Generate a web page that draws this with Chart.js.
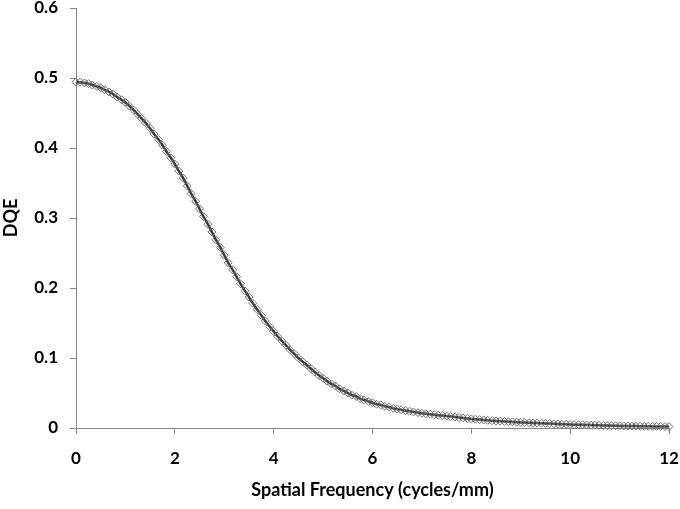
<!DOCTYPE html>
<html>
<head>
<meta charset="utf-8">
<script src="https://cdn.jsdelivr.net/npm/chart.js@4/dist/chart.umd.min.js"></script>
<style>
  body { margin: 0; background: #fff; }
  #wrap { width: 680px; height: 509px; }
</style>
</head>
<body>
<div id="wrap"><canvas id="myChart" width="680" height="509"></canvas></div>
<script>
// spatial frequency (cycles/mm)
var freq = [
  0, 0.08, 0.17, 0.25, 0.33, 0.42, 0.5, 0.58, 0.67, 0.75, 0.83, 0.92,
  1, 1.08, 1.17, 1.25, 1.33, 1.42, 1.5, 1.58, 1.67, 1.75, 1.83, 1.92,
  2, 2.08, 2.17, 2.25, 2.33, 2.42, 2.5, 2.58, 2.67, 2.75, 2.83, 2.92,
  3, 3.08, 3.17, 3.25, 3.33, 3.42, 3.5, 3.58, 3.67, 3.75, 3.83, 3.92,
  4, 4.08, 4.17, 4.25, 4.33, 4.42, 4.5, 4.58, 4.67, 4.75, 4.83, 4.92,
  5, 5.08, 5.17, 5.25, 5.33, 5.42, 5.5, 5.58, 5.67, 5.75, 5.83, 5.92,
  6, 6.08, 6.17, 6.25, 6.33, 6.42, 6.5, 6.58, 6.67, 6.75, 6.83, 6.92,
  7, 7.08, 7.17, 7.25, 7.33, 7.42, 7.5, 7.58, 7.67, 7.75, 7.83, 7.92,
  8, 8.08, 8.17, 8.25, 8.33, 8.42, 8.5, 8.58, 8.67, 8.75, 8.83, 8.92,
  9, 9.08, 9.17, 9.25, 9.33, 9.42, 9.5, 9.58, 9.67, 9.75, 9.83, 9.92,
  10, 10.08, 10.17, 10.25, 10.33, 10.42, 10.5, 10.58, 10.67, 10.75, 10.83, 10.92,
  11, 11.08, 11.17, 11.25, 11.33, 11.42, 11.5, 11.58, 11.67, 11.75, 11.83, 11.92,
  12
];

// DQE
var dqe = [
  0.494, 0.494, 0.493, 0.492, 0.490, 0.488, 0.486, 0.483, 0.480, 0.477, 0.473, 0.469,
  0.465, 0.460, 0.454, 0.448, 0.442, 0.435, 0.428, 0.420, 0.412, 0.404, 0.395, 0.386,
  0.377, 0.367, 0.357, 0.346, 0.335, 0.324, 0.313, 0.302, 0.291, 0.280, 0.269, 0.258,
  0.247, 0.236, 0.226, 0.216, 0.206, 0.196, 0.187, 0.178, 0.169, 0.161, 0.153, 0.145,
  0.138, 0.131, 0.124, 0.118, 0.112, 0.106, 0.100, 0.095, 0.090, 0.085, 0.080, 0.075,
  0.071, 0.067, 0.063, 0.060, 0.056, 0.053, 0.050, 0.047, 0.045, 0.042, 0.040, 0.038,
  0.036, 0.034, 0.033, 0.031, 0.030, 0.028, 0.027, 0.026, 0.025, 0.024, 0.023, 0.022,
  0.021, 0.0203, 0.0197, 0.019, 0.0183, 0.0177, 0.017, 0.0163, 0.0157, 0.015, 0.0143, 0.0137,
  0.013, 0.0125, 0.012, 0.0115, 0.011, 0.0105, 0.010, 0.0097, 0.0093, 0.009, 0.0087, 0.0083,
  0.008, 0.0078, 0.0075, 0.0073, 0.007, 0.0068, 0.0065, 0.0063, 0.006, 0.0058, 0.0055, 0.0053,
  0.005, 0.0048, 0.0047, 0.0045, 0.0043, 0.0042, 0.004, 0.0038, 0.0037, 0.0035, 0.0033, 0.0032,
  0.003, 0.0029, 0.0028, 0.0028, 0.0027, 0.0026, 0.0025, 0.0024, 0.0023, 0.0023, 0.0022, 0.0021,
  0.002
];

var xTitle = "Spatial Frequency (cycles/mm)";
var yTitle = "DQE";

var puntos = [];
for (var i = 0; i < freq.length; i++) {
  puntos.push({ x: freq[i], y: dqe[i] });
}

var familia = "Lato, 'Open Sans', sans-serif";
var fuente = { family: familia, weight: "bold", size: 17 };
var fuenteTitulo = { family: familia, weight: "bold", size: 18 };
var gris = "#868686";

new Chart("myChart", {
  type: "line",
  data: {
    datasets: [{
      data: puntos,
      borderColor: "#3a3a3a",
      borderWidth: 2.5,
      tension: 0.4,
      pointStyle: "rectRot",
      pointRadius: 4,
      pointBorderWidth: 1,
      pointBorderColor: "#707070",
      pointBackgroundColor: "rgba(255,255,255,0)",
      clip: false
    }]
  },
  options: {
    responsive: false,
    animation: false,
    layout: { padding: { top: 8, right: 11, bottom: 4, left: 0 } },
    plugins: {
      legend: { display: false },
      tooltip: { enabled: false }
    },
    scales: {
      x: {
        type: "linear",
        min: 0,
        max: 12,
        ticks: { stepSize: 2, color: "#000", font: fuente, padding: 14 },
        grid: { drawOnChartArea: false, color: gris, tickLength: 6 },
        border: { color: gris },
        title: { display: true, text: xTitle, color: "#000", font: fuenteTitulo, padding: { top: 8 } },
        afterFit: function (s) { s.height = 77; s.paddingLeft = 0; s.paddingRight = 0; }
      },
      y: {
        min: 0,
        max: 0.6,
        ticks: { stepSize: 0.1, color: "#000", font: fuente, padding: 12 },
        grid: { drawOnChartArea: false, color: gris, tickLength: 6 },
        border: { color: gris },
        title: { display: true, text: yTitle, color: "#000", font: fuenteTitulo, padding: 0 },
        afterFit: function (s) { s.width = 76; s.paddingTop = 0; s.paddingBottom = 0; }
      }
    }
  }
});
</script>
</body>
</html>
